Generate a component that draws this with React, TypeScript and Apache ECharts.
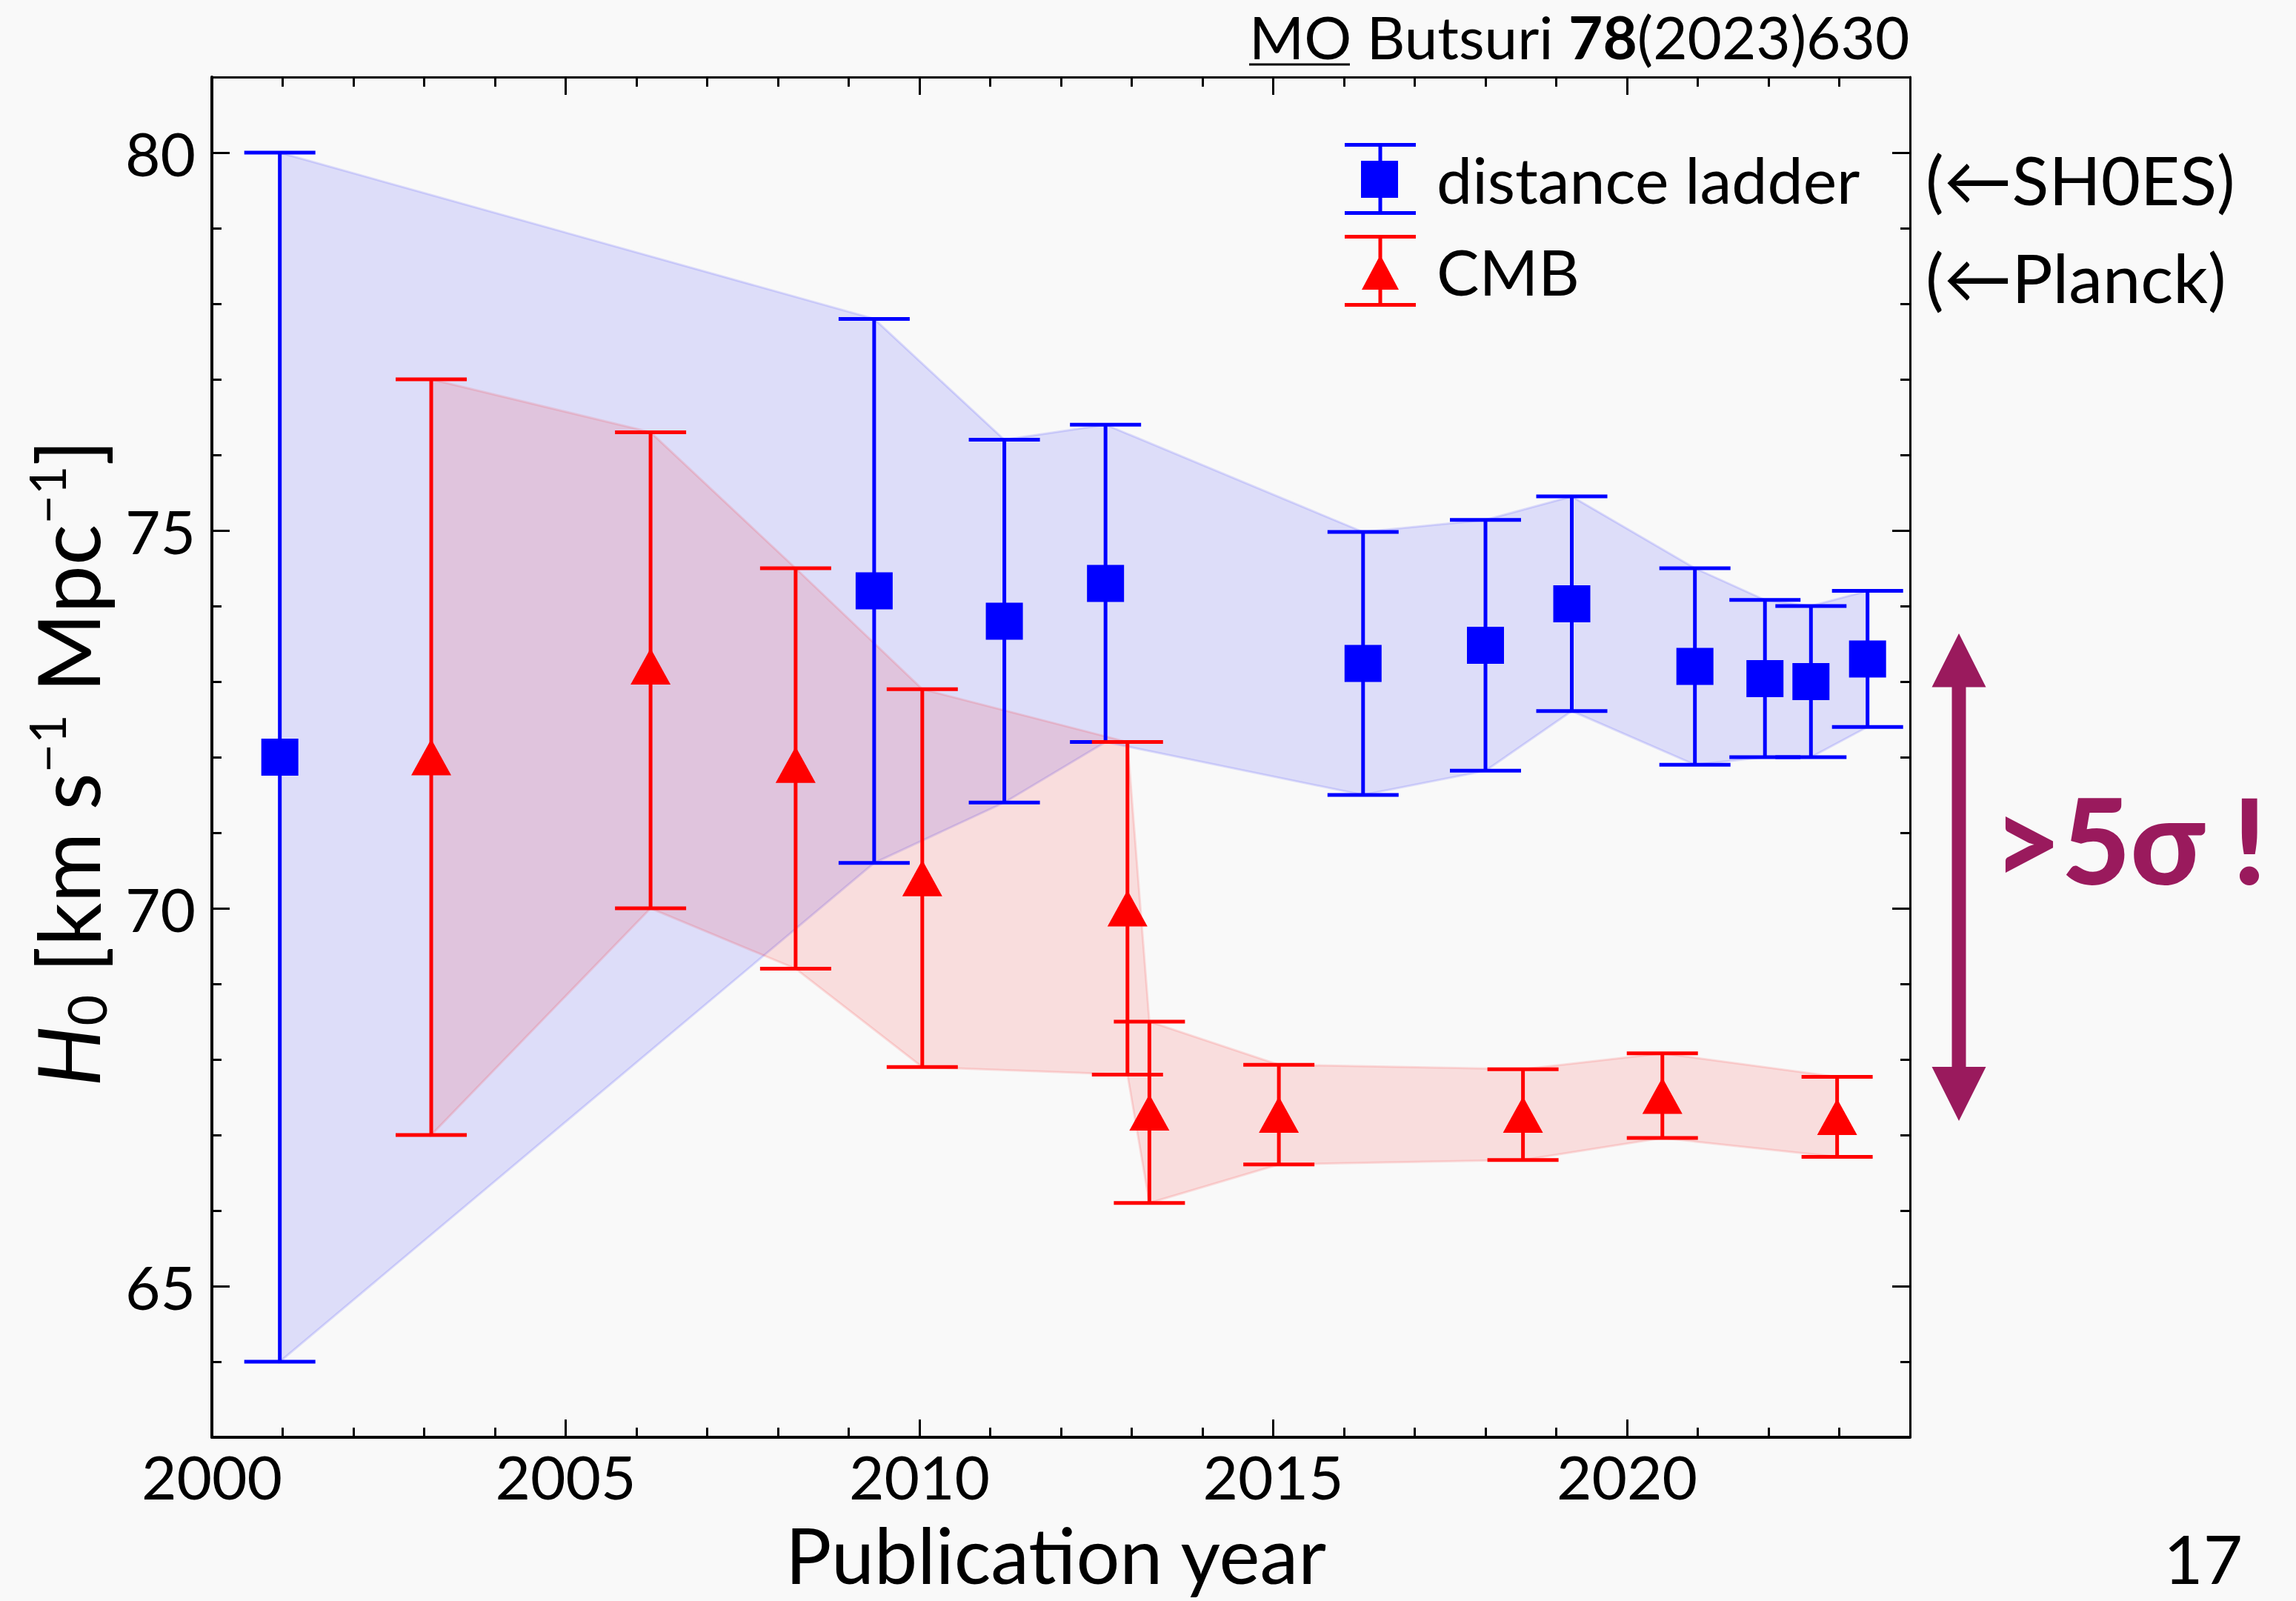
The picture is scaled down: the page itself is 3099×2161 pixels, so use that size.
import React, { useEffect, useRef } from 'react';
import * as echarts from 'echarts';

// Distance-ladder determinations of H0 (publication year, value, errors)
const ladderYear = [2000.96, 2009.36, 2011.2, 2012.63, 2016.27, 2018.0, 2019.22, 2020.96, 2021.95, 2022.6, 2023.4];
const ladderH0 = [72.0, 74.2, 73.8, 74.3, 73.24, 73.48, 74.03, 73.2, 73.04, 73.0, 73.3];
const ladderErrUp = [8.0, 3.6, 2.4, 2.1, 1.74, 1.66, 1.42, 1.3, 1.04, 1.0, 0.9];
const ladderErrDown = [8.0, 3.6, 2.4, 2.1, 1.74, 1.66, 1.42, 1.3, 1.04, 1.0, 0.9];

// CMB-inferred H0
const cmbYear = [2003.1, 2006.2, 2008.25, 2010.04, 2012.94, 2013.25, 2015.08, 2018.53, 2020.5, 2022.97];
const cmbH0 = [72.0, 73.2, 71.9, 70.4, 70.0, 67.3, 67.27, 67.27, 67.52, 67.24];
const cmbErrUp = [5.0, 3.1, 2.6, 2.5, 2.2, 1.2, 0.66, 0.6, 0.56, 0.53];
const cmbErrDown = [5.0, 3.2, 2.7, 2.5, 2.2, 1.2, 0.66, 0.6, 0.56, 0.53];

// Axis ticks
const yearMajorTicks = [2000, 2005, 2010, 2015, 2020];
const yearMinorTicks = [2000, 2001, 2002, 2003, 2004, 2005, 2006, 2007, 2008, 2009, 2010, 2011, 2012,
  2013, 2014, 2015, 2016, 2017, 2018, 2019, 2020, 2021, 2022, 2023, 2024];
const h0MajorTicks = [65, 70, 75, 80];
const h0MinorTicks = [63, 64, 65, 66, 67, 68, 69, 70, 71, 72, 73, 74, 75, 76, 77, 78, 79, 80, 81];

const FONT = 'Lato, "Open Sans", sans-serif';
const BLUE = '#0000ff';
const RED = '#ff0000';
const PURPLE = '#9a1a5d';
const BG = '#f9f9f9';
const CAP = 96;

const ladderIcon = 'path://M0 0H96V5H0Z M45.5 0H50.5V97H45.5Z M22 24H72V74H22Z M0 92H96V97H0Z';
const cmbIcon = 'path://M0 0H96V5H0Z M45.5 0H50.5V97H45.5Z M48 27L73 74H23Z M0 92H96V97H0Z';

function bandSeries(fill: string, edge: string, years: number[], h0: number[], up: number[], down: number[]) {
  return {
    type: 'custom',
    silent: true,
    z: 1,
    xAxisIndex: 0,
    yAxisIndex: 0,
    data: [[years[0], h0[0]]],
    renderItem: (_params: any, api: any) => {
      const upper = years.map((x, i) => api.coord([x, h0[i] + up[i]]));
      const lower = years.map((x, i) => api.coord([x, h0[i] - down[i]])).reverse();
      return {
        type: 'polygon',
        shape: { points: upper.concat(lower) },
        style: { fill, stroke: edge, lineWidth: 3 },
      };
    },
  };
}

function errorBarSeries(name: string, color: string, years: number[], h0: number[], up: number[], down: number[]) {
  return {
    type: 'custom',
    name,
    z: 3,
    xAxisIndex: 0,
    yAxisIndex: 0,
    itemStyle: { color, opacity: 1 },
    data: years.map((x, i) => [x, h0[i] - down[i], h0[i] + up[i]]),
    renderItem: (_params: any, api: any) => {
      const x = api.value(0);
      const pLo = api.coord([x, api.value(1)]);
      const pHi = api.coord([x, api.value(2)]);
      const half = CAP / 2;
      const style = { stroke: color, lineWidth: 5, fill: 'none' };
      return {
        type: 'group',
        children: [
          { type: 'line', shape: { x1: pLo[0], y1: pLo[1], x2: pHi[0], y2: pHi[1] }, style },
          { type: 'line', shape: { x1: pHi[0] - half, y1: pHi[1], x2: pHi[0] + half, y2: pHi[1] }, style },
          { type: 'line', shape: { x1: pLo[0] - half, y1: pLo[1], x2: pLo[0] + half, y2: pLo[1] }, style },
        ],
      };
    },
  };
}

function xAxisDef(position: 'top' | 'bottom', ticks: number[], len: number, withLabels: boolean, lineWidth: number) {
  return {
    type: 'value',
    position,
    min: 2000,
    max: 2024,
    gridIndex: 0,
    splitLine: { show: false },
    axisLine: { show: lineWidth > 0, onZero: false, lineStyle: { color: '#000', width: lineWidth } },
    axisTick: { show: true, inside: true, length: len, customValues: ticks, lineStyle: { color: '#000', width: 3 } },
    axisLabel: {
      show: withLabels,
      customValues: yearMajorTicks,
      formatter: (v: number) => String(v),
      fontFamily: FONT,
      fontSize: 82,
      color: '#000',
      margin: 11,
    },
  };
}

function yAxisDef(position: 'left' | 'right', ticks: number[], len: number, withLabels: boolean, lineWidth: number) {
  return {
    type: 'value',
    position,
    min: 63,
    max: 81,
    gridIndex: 0,
    splitLine: { show: false },
    axisLine: { show: lineWidth > 0, onZero: false, lineStyle: { color: '#000', width: lineWidth } },
    axisTick: { show: true, inside: true, length: len, customValues: ticks, lineStyle: { color: '#000', width: 3 } },
    axisLabel: {
      show: withLabels,
      customValues: h0MajorTicks,
      formatter: (v: number) => String(v),
      fontFamily: FONT,
      fontSize: 82,
      color: '#000',
      margin: 22,
    },
  };
}

export default function App() {
  const ref = useRef<HTMLDivElement>(null);

  useEffect(() => {
    if (!ref.current) return;
    const chart = echarts.init(ref.current, undefined, { renderer: 'svg' });

    const option: any = {
      animation: false,
      backgroundColor: BG,
      grid: { left: 286, right: 521, top: 104, bottom: 221, containLabel: false },
      xAxis: [
        xAxisDef('bottom', yearMajorTicks, 24, true, 4),
        xAxisDef('bottom', yearMinorTicks, 13, false, 0),
        xAxisDef('top', yearMajorTicks, 24, false, 3),
        xAxisDef('top', yearMinorTicks, 13, false, 0),
      ],
      yAxis: [
        yAxisDef('left', h0MajorTicks, 24, true, 4),
        yAxisDef('left', h0MinorTicks, 13, false, 0),
        yAxisDef('right', h0MajorTicks, 24, false, 3),
        yAxisDef('right', h0MinorTicks, 13, false, 0),
      ],
      legend: {
        orient: 'vertical',
        left: 1815,
        top: 193,
        padding: 0,
        itemWidth: 96,
        itemHeight: 97,
        itemGap: 27,
        selectedMode: false,
        itemStyle: { borderWidth: 0, opacity: 1 },
        textStyle: { fontFamily: FONT, fontSize: 86, color: '#000', padding: [0, 0, 0, 23] },
        data: [
          { name: 'distance ladder', icon: ladderIcon },
          { name: 'CMB', icon: cmbIcon },
        ],
      },
      series: [
        {
          type: 'scatter',
          name: 'distance ladder',
          xAxisIndex: 0,
          yAxisIndex: 0,
          z: 5,
          symbol: 'rect',
          symbolSize: 50,
          itemStyle: { color: BLUE, opacity: 1 },
          data: ladderYear.map((x, i) => [x, ladderH0[i]]),
        },
        {
          type: 'scatter',
          name: 'CMB',
          xAxisIndex: 0,
          yAxisIndex: 0,
          z: 5,
          symbol: 'triangle',
          symbolSize: [54, 49],
          itemStyle: { color: RED, opacity: 1 },
          data: cmbYear.map((x, i) => [x, cmbH0[i]]),
        },
        bandSeries('rgba(0,0,255,0.11)', 'rgba(0,0,255,0.12)', ladderYear, ladderH0, ladderErrUp, ladderErrDown),
        bandSeries('rgba(255,0,0,0.11)', 'rgba(255,0,0,0.12)', cmbYear, cmbH0, cmbErrUp, cmbErrDown),
        errorBarSeries('distance ladder', BLUE, ladderYear, ladderH0, ladderErrUp, ladderErrDown),
        errorBarSeries('CMB', RED, cmbYear, cmbH0, cmbErrUp, cmbErrDown),
      ],
      graphic: [
        // reference line above the frame
        {
          type: 'text',
          x: 1686,
          y: 49,
          style: {
            text: '{u|MO} Butsuri {b|78}(2023)630',
            fontFamily: FONT,
            fontSize: 80,
            fill: '#000',
            align: 'left',
            textAlign: 'left',
            verticalAlign: 'middle',
            textVerticalAlign: 'middle',
            rich: {
              u: { fontFamily: FONT, fontSize: 80, color: '#000' },
              b: { fontFamily: FONT, fontSize: 80, fontWeight: 'bold', color: '#000' },
            },
          },
        },
        { type: 'line', shape: { x1: 1686, y1: 87, x2: 1822, y2: 87 }, style: { stroke: '#000', lineWidth: 3 } },
        // y-axis title
        {
          type: 'text',
          x: 90,
          y: 1030,
          rotation: Math.PI / 2,
          style: {
            text: '{h|H}{sub|0} [km s{sup|\u22121} Mpc{sup|\u22121}]',
            fontFamily: FONT,
            fontSize: 116,
            lineHeight: 124,
            fill: '#000',
            align: 'center',
            textAlign: 'center',
            verticalAlign: 'middle',
            textVerticalAlign: 'middle',
            rich: {
              h: { fontFamily: FONT, fontSize: 116, fontStyle: 'italic', lineHeight: 124, color: '#000' },
              sub: { fontFamily: FONT, fontSize: 72, lineHeight: 56, verticalAlign: 'bottom', color: '#000' },
              sup: { fontFamily: FONT, fontSize: 68, lineHeight: 68, verticalAlign: 'top', color: '#000' },
            },
          },
        },
        // x-axis title
        {
          type: 'text',
          x: 1425,
          y: 2097,
          style: {
            text: 'Publication year',
            fontFamily: FONT,
            fontSize: 104,
            fill: '#000',
            align: 'center',
            textAlign: 'center',
            verticalAlign: 'middle',
            textVerticalAlign: 'middle',
          },
        },
        {
          type: 'text',
          x: 2599,
          y: 241,
          style: {
            text: '(\u2190SH0ES)', fontFamily: FONT, fontSize: 92, fill: '#000',
            align: 'left', textAlign: 'left', verticalAlign: 'middle', textVerticalAlign: 'middle',
          },
        },
        {
          type: 'text',
          x: 2599,
          y: 373,
          style: {
            text: '(\u2190Planck)', fontFamily: FONT, fontSize: 92, fill: '#000',
            align: 'left', textAlign: 'left', verticalAlign: 'middle', textVerticalAlign: 'middle',
          },
        },
        // tension arrow and label
        {
          type: 'polygon',
          shape: {
            points: [
              [2644, 855], [2680.5, 927.5], [2653.5, 927.5], [2653.5, 1440], [2680.5, 1440],
              [2644, 1513], [2607.5, 1440], [2634.5, 1440], [2634.5, 927.5], [2607.5, 927.5],
            ],
          },
          style: { fill: PURPLE },
        },
        {
          type: 'text',
          x: 2690,
          y: 1132,
          style: {
            text: '>5\u03c3 !', fontFamily: FONT, fontSize: 160, fontWeight: 900, fill: PURPLE,
            align: 'left', textAlign: 'left', verticalAlign: 'middle', textVerticalAlign: 'middle',
          },
        },
        // page number
        {
          type: 'text',
          x: 3027,
          y: 2102,
          style: {
            text: '17', fontFamily: FONT, fontSize: 92, fill: '#000',
            align: 'right', textAlign: 'right', verticalAlign: 'middle', textVerticalAlign: 'middle',
          },
        },
      ],
    };

    chart.setOption(option);
    return () => chart.dispose();
  }, []);

  return (
    <div
      ref={ref}
      style={{ position: 'absolute', left: 0, top: 0, width: 3099, height: 2161, background: BG }}
    />
  );
}
